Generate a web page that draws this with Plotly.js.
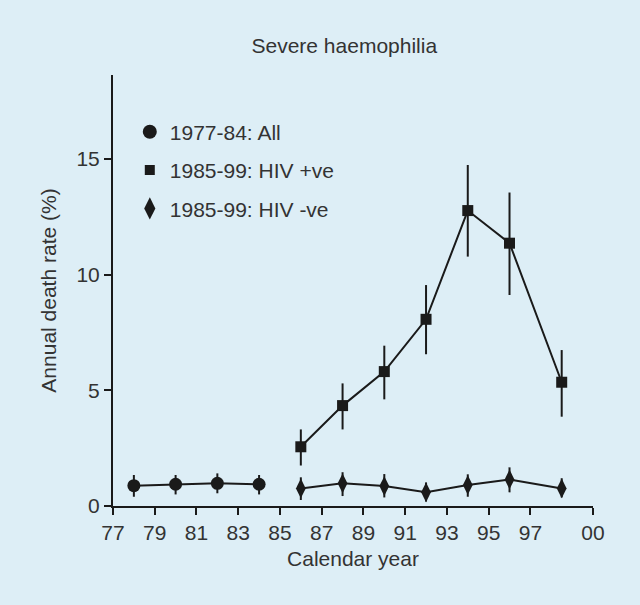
<!DOCTYPE html>
<html>
<head>
<meta charset="utf-8">
<script src="https://cdn.plot.ly/plotly-3.0.1.min.js"></script>
<style>
html,body{margin:0;padding:0;background:#ddeef6;}
#chart{width:640px;height:605px;}
</style>
</head>
<body>
<div id="chart"></div>
<script>
// Data (years are 19xx; 100 = 2000)
const yearsAll = [78, 80, 82, 84];
const rateAll = [0.88, 0.94, 0.98, 0.94];
const rateAllHi = [1.34, 1.34, 1.41, 1.34];
const rateAllLo = [0.40, 0.50, 0.55, 0.50];

const yearsHIV = [86, 88, 90, 92, 94, 96, 98.5];
const ratePos = [2.56, 4.34, 5.81, 8.07, 12.77, 11.36, 5.35];
const ratePosHi = [3.31, 5.30, 6.93, 9.55, 14.74, 13.55, 6.74];
const ratePosLo = [1.75, 3.31, 4.61, 6.56, 10.78, 9.12, 3.86];

const rateNeg = [0.76, 0.98, 0.86, 0.59, 0.91, 1.15, 0.76];
const rateNegHi = [1.24, 1.46, 1.38, 1.02, 1.37, 1.67, 1.20];
const rateNegLo = [0.26, 0.43, 0.37, 0.19, 0.40, 0.59, 0.37];

const seriesNames = ['1977-84: All', '1985-99: HIV +ve', '1985-99: HIV -ve'];
const xTickVals = [77, 79, 81, 83, 85, 87, 89, 91, 93, 95, 97, 100];
const xTickText = ['77', '79', '81', '83', '85', '87', '89', '91', '93', '95', '97', '00'];
const yTickVals = [0, 5, 10, 15];

const ink = '#1a1a1a';
const textCol = '#333333';

function errs(v, hi, lo) {
  return {
    type: 'data', symmetric: false,
    array: hi.map((h, i) => h - v[i]),
    arrayminus: v.map((x, i) => x - lo[i]),
    color: ink, thickness: 2, width: 0
  };
}

function series(x, y, hi, lo, symbol, size) {
  return {
    x: x, y: y, type: 'scatter', mode: 'lines+markers',
    line: {color: ink, width: 2},
    marker: {symbol: symbol, size: size, color: ink},
    error_y: errs(y, hi, lo),
    showlegend: false, hoverinfo: 'skip'
  };
}

function legendItem(name, symbol, size, group) {
  return {
    x: [null], y: [null], type: 'scatter', mode: 'markers',
    name: name, legendgroup: group,
    marker: {symbol: symbol, size: size, color: ink}
  };
}

const traces = [
  series(yearsAll, rateAll, rateAllHi, rateAllLo, 'circle', 13),
  series(yearsHIV, ratePos, ratePosHi, ratePosLo, 'square', 11),
  series(yearsHIV, rateNeg, rateNegHi, rateNegLo, 'diamond-tall', 14),
  legendItem(seriesNames[0], 'circle', 14, 'a'),
  legendItem(seriesNames[1], 'square', 10, 'b'),
  legendItem(seriesNames[2], 'diamond-tall', 17, 'c')
];

const fontFam = 'Liberation Sans, Arial, Helvetica, sans-serif';
const fs = 21;

const layout = {
  width: 640, height: 605,
  paper_bgcolor: '#ddeef6', plot_bgcolor: '#ddeef6',
  margin: {l: 113, r: 47, t: 75, b: 99},
  font: {family: fontFam, size: fs, color: textCol},
  title: {text: 'Severe haemophilia', x: 0.538, xanchor: 'center', y: 0.925, yanchor: 'middle',
          font: {family: fontFam, size: fs, color: textCol}},
  xaxis: {
    range: [77, 100], tickvals: xTickVals, ticktext: xTickText,
    showline: true, linecolor: ink, linewidth: 2,
    ticks: 'outside', ticklen: 7, tickwidth: 2, tickcolor: ink,
    showgrid: false, zeroline: false,
    tickfont: {size: fs, color: textCol},
    title: {text: 'Calendar year', font: {size: fs, color: textCol}, standoff: 8}
  },
  yaxis: {
    range: [0, 18.63], tickvals: yTickVals,
    showline: true, linecolor: ink, linewidth: 2,
    ticks: 'outside', ticklen: 7, tickwidth: 2, tickcolor: ink,
    showgrid: false, zeroline: false,
    tickfont: {size: fs, color: textCol},
    title: {text: 'Annual death rate (%)', font: {size: fs, color: textCol}, standoff: 14}
  },
  legend: {
    x: 0.035, y: 0.915, xanchor: 'left', yanchor: 'top',
    bgcolor: 'rgba(0,0,0,0)', borderwidth: 0,
    font: {size: fs, color: textCol},
    tracegroupgap: 8, itemwidth: 30
  },
  showlegend: true
};

Plotly.newPlot('chart', traces, layout, {displayModeBar: false, staticPlot: true});
</script>
</body>
</html>
